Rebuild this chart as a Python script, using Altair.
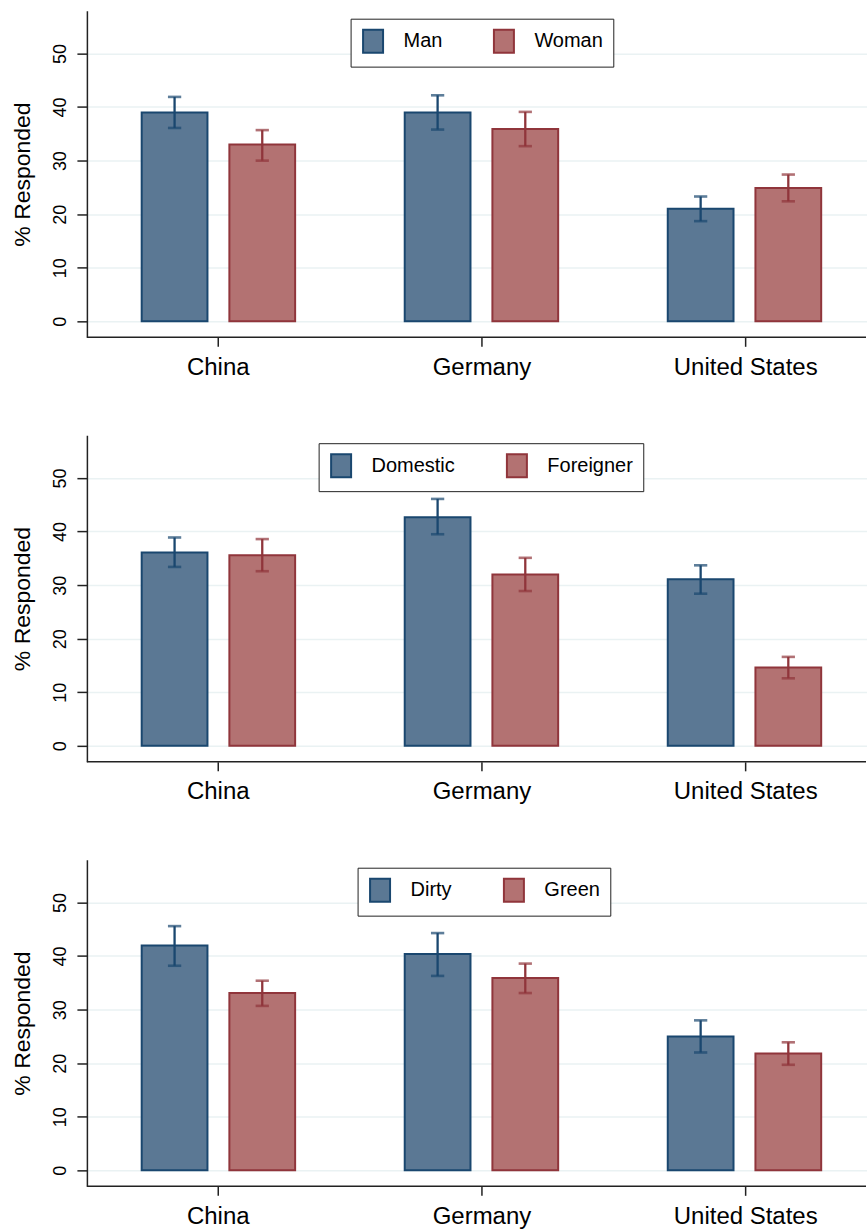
import altair as alt
import pandas as pd

countries = ["China", "Germany", "United States"]

# Panel 1: respondent gender
gender_groups = ["Man", "Woman"]
man_pct = [39.0, 39.0, 21.0]
man_lo = [36.1, 35.8, 18.7]
man_hi = [41.9, 42.2, 23.3]
woman_pct = [33.0, 35.9, 24.9]
woman_lo = [30.0, 32.7, 22.4]
woman_hi = [35.7, 39.1, 27.4]

# Panel 2: nationality
origin_groups = ["Domestic", "Foreigner"]
domestic_pct = [36.1, 42.7, 31.1]
domestic_lo = [33.4, 39.5, 28.4]
domestic_hi = [38.9, 46.1, 33.7]
foreigner_pct = [35.6, 32.0, 14.6]
foreigner_lo = [32.6, 28.9, 12.6]
foreigner_hi = [38.6, 35.1, 16.6]

# Panel 3: industry type
industry_groups = ["Dirty", "Green"]
dirty_pct = [42.0, 40.4, 25.0]
dirty_lo = [38.2, 36.3, 22.0]
dirty_hi = [45.6, 44.3, 28.0]
green_pct = [33.1, 35.9, 21.8]
green_lo = [30.7, 33.1, 19.7]
green_hi = [35.4, 38.6, 23.9]

y_ticks = [0, 10, 20, 30, 40, 50]
y_domain = [-3, 58]

FILLS = ["#5b7894", "#b37272"]
STROKES = ["#1a476f", "#90353b"]
AXIS_INK = "#222222"
FONT = "Liberation Sans"
KEY_SHAPE = "M-0.87,-1H0.87V1H-0.87Z"


def to_frame(groups, series):
    rows = []
    for g, (pct, lo, hi) in zip(groups, series):
        for c, p, l, h in zip(countries, pct, lo, hi):
            rows.append({"country": c, "group": g, "pct": p, "lo": l, "hi": h})
    return pd.DataFrame(rows)


def panel(groups, series, legend_x):
    df = to_frame(groups, series)
    legend = alt.Legend(
        title=None, orient="none", legendX=legend_x, legendY=8,
        direction="horizontal", columns=2, gridAlign="each",
        labelFont=FONT, labelFontSize=20, labelColor="black",
        symbolType=KEY_SHAPE, symbolSize=529, symbolStrokeWidth=2,
        symbolOpacity=1, labelOffset=18, columnPadding=47,
        padding=10, strokeColor=AXIS_INK, fillColor="white",
    )
    # bars: category bands run slightly past the right edge of the plot area
    x = alt.X(
        "country:N", sort=countries,
        scale=alt.Scale(domain=countries, range=[0, 790], paddingInner=0, paddingOuter=0),
        axis=None,
    )
    # axis: a point scale whose positions sit on the band centres above
    x_axis = alt.X(
        "country:N", sort=countries,
        scale=alt.Scale(type="point", domain=countries, padding=0.477, align=0.52),
        axis=alt.Axis(title=None, labelAngle=0, labelFont=FONT, labelFontSize=24,
                      labelColor="black", tickSize=9, tickColor=AXIS_INK, tickWidth=1.5,
                      labelPadding=9, domain=False, grid=False),
    )
    xo = alt.XOffset("group:N", sort=groups,
                     scale=alt.Scale(domain=groups, paddingInner=0.25, paddingOuter=0.625))
    yscale = alt.Scale(domain=y_domain, nice=False, zero=False)
    fill = alt.Fill("group:N", sort=groups, scale=alt.Scale(domain=groups, range=FILLS), legend=legend)
    stroke = alt.Stroke("group:N", sort=groups, scale=alt.Scale(domain=groups, range=STROKES), legend=legend)

    base = alt.Chart(df)
    bars = base.mark_bar(strokeWidth=2, opacity=1).encode(
        x=x, xOffset=xo,
        y=alt.Y("pct:Q", scale=yscale,
                axis=alt.Axis(values=y_ticks, title="% Responded", labelAngle=270,
                              labelAlign="center", labelBaseline="bottom",
                              labelFont=FONT, labelFontSize=18, labelColor="black",
                              labelPadding=7, tickSize=10, tickColor=AXIS_INK, tickWidth=1.5,
                              domainColor=AXIS_INK, domainWidth=1.5,
                              grid=True, gridColor="#eaf2f3", gridWidth=1.5,
                              titleFont=FONT, titleFontSize=23, titleFontWeight="normal",
                              titleColor="black", titlePadding=17)),
        fill=fill, stroke=stroke,
    )
    whisker = base.mark_rule(strokeWidth=2.3).encode(
        x=x, xOffset=xo, y=alt.Y("lo:Q", scale=yscale), y2="hi:Q", stroke=stroke,
    )
    cap_lo = base.mark_tick(filled=False, thickness=0.3, size=11, strokeWidth=2.3).encode(
        x=x, xOffset=xo, y=alt.Y("lo:Q", scale=yscale), stroke=stroke,
    )
    cap_hi = base.mark_tick(filled=False, thickness=0.3, size=11, strokeWidth=2.3).encode(
        x=x, xOffset=xo, y=alt.Y("hi:Q", scale=yscale), stroke=stroke,
    )
    marks = alt.layer(bars, whisker, cap_lo, cap_hi)
    axis_holder = base.mark_point(opacity=0).encode(
        x=x_axis, y=alt.Y("pct:Q", scale=yscale)
    )
    baseline = alt.Chart(pd.DataFrame({"v": [y_domain[0]]})).mark_rule(
        color=AXIS_INK, strokeWidth=1.5
    ).encode(y=alt.Y("v:Q", scale=yscale))
    return alt.layer(marks, axis_holder, baseline).resolve_scale(x="independent").properties(
        width=780, height=327
    )


p1 = panel(gender_groups, [(man_pct, man_lo, man_hi), (woman_pct, woman_lo, woman_hi)], 264)
p2 = panel(origin_groups, [(domestic_pct, domestic_lo, domestic_hi),
                           (foreigner_pct, foreigner_lo, foreigner_hi)], 232)
p3 = panel(industry_groups, [(dirty_pct, dirty_lo, dirty_hi), (green_pct, green_lo, green_hi)], 271)

chart = alt.vconcat(p1, p2, p3, spacing=98, bounds="flush").resolve_scale(
    x="independent", fill="independent", stroke="independent", xOffset="independent"
).resolve_legend(
    fill="independent", stroke="independent"
).configure_view(stroke=None).properties(
    padding={"left": 12, "top": 10, "right": 0, "bottom": 2},
    background="white",
)

chart.save("out.html", embed_options={"renderer": "svg", "actions": False})
